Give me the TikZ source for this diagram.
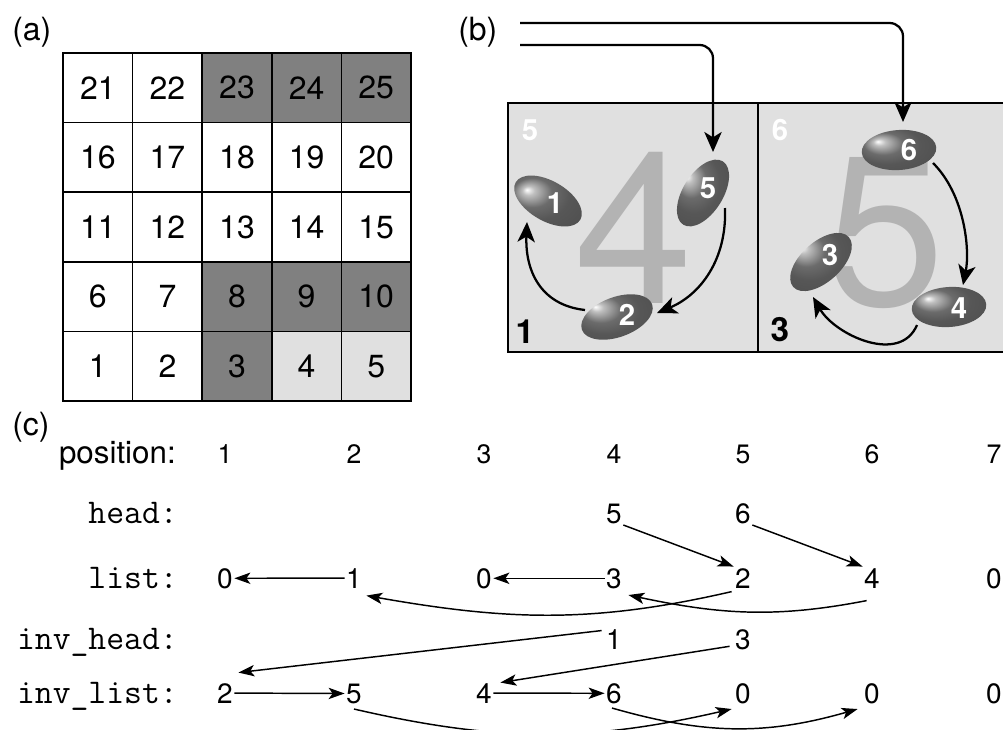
\documentclass[tikz,border=0pt]{standalone}
\usepackage{fontspec}
\setmainfont{TeX Gyre Heros}
\usetikzlibrary{arrows.meta,calc,shapes.geometric}
\definecolor{darkcell}{HTML}{808080}
\definecolor{lightcell}{HTML}{E0E0E0}
\definecolor{bigdigit}{HTML}{B3B3B3}
\pgfdeclareradialshading{egg}{\pgfpoint{-14bp}{10bp}}{color(0bp)=(white); color(4bp)=(black!25); color(13bp)=(black!58); color(22bp)=(black!66); color(50bp)=(black!72)}
\begin{document}
\begin{tikzpicture}[x=0.75pt,y=0.75pt,
  cell/.style={draw, line width=1.2pt, minimum size=52.2pt, inner sep=0pt, font=\fontsize{24}{24}\selectfont},
  panellbl/.style={anchor=base west, inner sep=0pt, font=\fontsize{24}{24}\selectfont},
  egg/.style={ellipse, shading=egg, minimum width=56pt, minimum height=30pt, inner sep=0pt},
  eggnum/.style={text=white, inner sep=0pt, font=\fontsize{22}{22}\selectfont\bfseries},
  cornernum/.style={anchor=base, inner sep=0pt, font=\fontsize{25}{25}\selectfont\bfseries},
  cornerwhite/.style={anchor=base, inner sep=0pt, text=white, font=\fontsize{22}{22}\selectfont\bfseries},
  bignum/.style={anchor=base, inner sep=0pt, text=bigdigit, font=\fontsize{160}{160}\selectfont},
  barrow/.style={line width=1.7pt, -{Stealth[length=15pt,width=13pt,inset=4pt]}},
  carrow/.style={line width=1.1pt, -{Stealth[length=12pt,width=8.5pt,inset=3pt]}},
  cnum/.style={anchor=base, inner sep=1pt, font=\fontsize{21}{21}\selectfont},
  pnum/.style={anchor=base, inner sep=1pt, font=\fontsize{20}{20}\selectfont},
  rowlbl/.style={anchor=base east, inner sep=0pt, font=\ttfamily\fontsize{26}{26}\selectfont},
]
\useasboundingbox (0,0) rectangle (1003,-729);
\clip (0,0) rectangle (1003,-729);

% ---------- (a) ----------
\node[panellbl] (la) at (12,-40) {(a)};
\foreach \i/\f in {1/white,2/white,3/darkcell,4/lightcell,5/lightcell,
                   6/white,7/white,8/darkcell,9/darkcell,10/darkcell,
                   11/white,12/white,13/white,14/white,15/white,
                   16/white,17/white,18/white,19/white,20/white,
                   21/white,22/white,23/darkcell,24/darkcell,25/darkcell}{
  \pgfmathtruncatemacro\c{mod(\i-1,5)}
  \pgfmathtruncatemacro\r{(\i-1)/5}
  \node[cell, fill=\f] (g\i) at ({63+69.6*(\c+0.5)}, {-401+69.6*(\r+0.5)}) {\i};
}

% ---------- (b) ----------
\node[panellbl] (lb) at (458,-40) {(b)};
\draw[line width=1.2pt, fill=lightcell] (508,-103) rectangle (1012,-352);
\draw[line width=1.2pt] (758,-103) -- (758,-352);
\node[bignum] (big4) at (634,-303) {4};
\node[bignum] (big5) at (886,-305) {5};
\node[cornerwhite] (cw5) at (530,-140) {5};
\node[cornerwhite] (cw6) at (780,-140) {6};
\node[cornernum] (cb1) at (525,-343) {1};
\node[cornernum] (cb3) at (780,-341) {3};

\node[egg, rotate=-30] (e1) at (548,-201) {};
\node[egg, rotate=58]  (e5) at (703,-193) {};
\node[egg, rotate=20]  (e2) at (617,-317) {};
\node[egg, rotate=4]   (e6) at (899,-150) {};
\node[egg, rotate=42]  (e3) at (821,-262) {};
\node[egg, rotate=4]   (e4) at (949,-307) {};
\node[eggnum] (n1) at ($(e1)+(7,-2)$) {1};
\node[eggnum] (n5) at ($(e5)+(5,5)$) {5};
\node[eggnum] (n2) at ($(e2)+(10,2)$) {2};
\node[eggnum] (n6) at ($(e6)+(10,0)$) {6};
\node[eggnum] (n3) at ($(e3)+(9,7)$) {3};
\node[eggnum] (n4) at ($(e4)+(10,-1)$) {4};

\coordinate (t1) at (520,-23);
\coordinate (t2) at (520,-45);
\draw[barrow, rounded corners=10pt] (t1) -| ($(e6)+(4,28)$);
\draw[barrow, rounded corners=10pt] (t2) -| ($(e5)+(10,41)$);
\draw[barrow] ($(e5)+(22,-15)$) .. controls ($(e5)+(24,-67)$) and ($(e2)+(83,22)$) .. ($(e2)+(40,4)$);
\draw[barrow] ($(e2)+(-32,7)$) .. controls ($(e2)+(-77,12)$) and ($(e1)+(-23,-69)$) .. ($(e1)+(-21,-21)$);
\draw[barrow] ($(e6)+(34,-13)$) .. controls ($(e6)+(66,-45)$) and ($(e4)+(21,57)$) .. ($(e4)+(14,22)$);
\draw[barrow] ($(e4)+(-32,-18)$) .. controls ($(e4)+(-49,-58)$) and ($(e3)+(14,-73)$) .. ($(e3)+(-8,-35)$);

% ---------- (c) ----------
\node[panellbl] (lc) at (12,-435) {(c)};
\node[anchor=base east, inner sep=0pt, font=\fontsize{23.5}{24}\selectfont] (lpos) at (176,-463) {position:};
\node[rowlbl] (lhead) at (178,-523) {head:};
\node[rowlbl] (llist) at (178,-588) {list:};
\node[rowlbl] (linvh) at (178,-649) {inv\_head:};
\node[rowlbl] (linvl) at (178,-703) {inv\_list:};

\foreach \k/\x in {1/225,2/354,3/484,4/614,5/743,6/872,7/994}{
  \node[pnum] (p\k) at (\x,-463) {\k};
}
\foreach \k/\x/\v in {1/225/0,2/354/1,3/484/0,4/614/3,5/743/2,6/872/4,7/994/0}{
  \node[cnum] (l\k) at (\x,-588) {\v};
}
\foreach \k/\x/\v in {1/225/2,2/354/5,3/484/4,4/614/6,5/743/0,6/872/0,7/994/0}{
  \node[cnum] (il\k) at (\x,-703) {\v};
}
\node[cnum] (h4) at (614,-523) {5};
\node[cnum] (h5) at (743,-523) {6};
\node[cnum] (ih4) at (614,-649) {1};
\node[cnum] (ih5) at (743,-649) {3};

\draw[carrow] (h4.south east) -- (l5.north west);
\draw[carrow] (h5.south east) -- (l6.north west);
\draw[carrow] (l2.west) -- (l1.east);
\draw[carrow] (l4.west) -- (l3.east);
\draw[carrow] ($(l5.south west)+(-2,-2)$) to[out=-167,in=-10] ($(l2.south east)+(3,-6)$);
\draw[carrow] ($(l6.south west)+(4,-11)$) to[out=-169,in=-12] ($(l4.south east)+(5,-5)$);
\draw[carrow] ($(ih4.north west)+(-3,-3)$) -- ($(il1.north east)+(4,9)$);
\draw[carrow] ($(ih5.west)+(-4,-7)$) -- ($(il3.north east)+(7,-1)$);
\draw[carrow] (il1.east) -- (il2.west);
\draw[carrow] (il3.east) -- (il4.west);
\draw[carrow] ($(il2.south)+(0,-4)$) to[out=-13,in=-167] ($(il5.south west)+(-2,-4)$);
\draw[carrow] ($(il4.south)+(-2,-3)$) to[out=-16,in=-164] ($(il6.south west)+(-5,-4)$);
\end{tikzpicture}
\end{document}
